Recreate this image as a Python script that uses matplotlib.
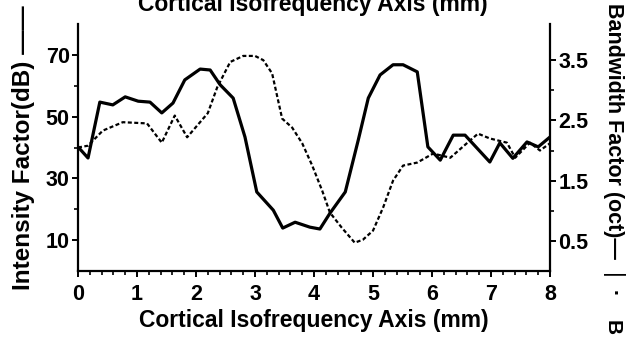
import numpy as np
import matplotlib
matplotlib.use("Agg")
import matplotlib.pyplot as plt
from matplotlib.ticker import MultipleLocator, FixedLocator

plt.rcParams['font.family'] = ['Liberation Sans', 'DejaVu Sans']
plt.rcParams['font.weight'] = 'bold'
plt.rcParams['axes.labelweight'] = 'bold'

# intensity factor (dB), solid line, left axis
int_x = [0.0, 0.17, 0.37, 0.59, 0.80, 1.02, 1.22, 1.42, 1.61, 1.81, 2.07, 2.24,
         2.41, 2.63, 2.83, 3.03, 3.31, 3.47, 3.68, 3.93, 4.10, 4.27, 4.53, 4.75,
         4.92, 5.12, 5.34, 5.51, 5.75, 5.93, 6.14, 6.36, 6.56, 6.98, 7.15, 7.37,
         7.61, 7.80, 8.0]
int_db = [40.2, 36.6, 54.7, 53.8, 56.4, 55.0, 54.7, 51.2, 54.4, 61.9, 65.4, 65.1,
          60.3, 56.0, 43.4, 25.6, 19.7, 13.9, 15.8, 14.2, 13.6, 18.7, 25.6, 42.4,
          56.0, 63.5, 66.8, 66.8, 64.5, 40.2, 35.9, 44.0, 44.0, 35.3, 41.5, 36.5,
          41.8, 40.2, 43.4]

# bandwidth factor (oct), dashed line, right axis
bw_x = [0.0, 0.17, 0.42, 0.76, 1.17, 1.42, 1.64, 1.85, 2.20, 2.36, 2.58, 2.80,
        3.00, 3.14, 3.29, 3.46, 3.63, 3.80, 3.97, 4.14, 4.27, 4.47, 4.69, 4.83,
        5.00, 5.17, 5.34, 5.51, 5.75, 6.02, 6.31, 6.59, 6.78, 6.98, 7.27, 7.41,
        7.66, 7.83, 8.0]
bw_oct = [2.05, 2.08, 2.33, 2.47, 2.45, 2.13, 2.58, 2.22, 2.62, 3.05, 3.47, 3.57,
          3.57, 3.50, 3.28, 2.53, 2.38, 2.12, 1.75, 1.33, 0.97, 0.72, 0.47, 0.52,
          0.67, 1.05, 1.50, 1.75, 1.80, 1.95, 1.88, 2.12, 2.28, 2.20, 2.13, 1.88,
          2.13, 2.00, 2.12]

db_ticks = [10, 30, 50, 70]
oct_ticks = [0.5, 1.5, 2.5, 3.5]
mm_ticks = list(range(9))

fig = plt.figure(figsize=(6.32, 3.38), dpi=100)
ax = fig.add_axes([78 / 632, 67 / 338, 472 / 632, 247 / 338])
ax2 = ax.twinx()

ax.plot(int_x, int_db, color='black', lw=2.3, solid_joinstyle='round')
ax2.plot(bw_x, bw_oct, color='black', lw=1.6, linestyle=(0, (1.8, 1.1)))

ax.set_xlim(0, 8)
ax.set_ylim(0, 80)
ax2.set_ylim(0, 4.1)

for a in (ax, ax2):
    a.spines['top'].set_visible(False)
    for s in a.spines.values():
        s.set_linewidth(1.6)
ax.spines['right'].set_visible(False)
ax2.spines['left'].set_visible(False)
ax2.spines['bottom'].set_visible(False)

ax.set_xticks(mm_ticks)
ax.xaxis.set_minor_locator(MultipleLocator(0.2))
ax.set_yticks(db_ticks)
ax.yaxis.set_minor_locator(FixedLocator([20, 40, 60]))
ax2.set_yticks(oct_ticks)
ax2.yaxis.set_minor_locator(FixedLocator([1, 2, 3]))

tick_font = dict(labelsize=15.5, direction='out', width=1.4, length=4, pad=2)
ax.tick_params(axis='both', which='major', **tick_font)
ax.tick_params(axis='both', which='minor', direction='out', width=1.2, length=3)
ax2.tick_params(axis='y', which='major', **tick_font)
ax2.tick_params(axis='y', which='minor', direction='out', width=1.2, length=3)
ax.tick_params(axis='x', pad=5)

ax.set_xlabel('Cortical Isofrequency Axis (mm)', fontsize=16.5, va='baseline')
ax.xaxis.set_label_coords(0.5, (271 - 327) / 247)

fig.text(24 / 632, 1 - 148 / 338, 'Intensity Factor(dB) \u2014\u2014', rotation=90,
         ha='center', va='center', fontsize=17.5)
fig.text(614 / 632, 1 - 150 / 338, 'Bandwidth Factor (oct)\u2014 \u2758 \u00b7', rotation=-90,
         ha='center', va='center', fontsize=15.5)
fig.text(313 / 632, 1 - 11 / 338, 'Cortical Isofrequency Axis (mm)', ha='center',
         va='baseline', fontsize=16.5)
fig.text(612 / 632, 1 - 328 / 338, 'B', rotation=-90, ha='center', va='center', fontsize=15)

fig.savefig('out.png', dpi=100)
